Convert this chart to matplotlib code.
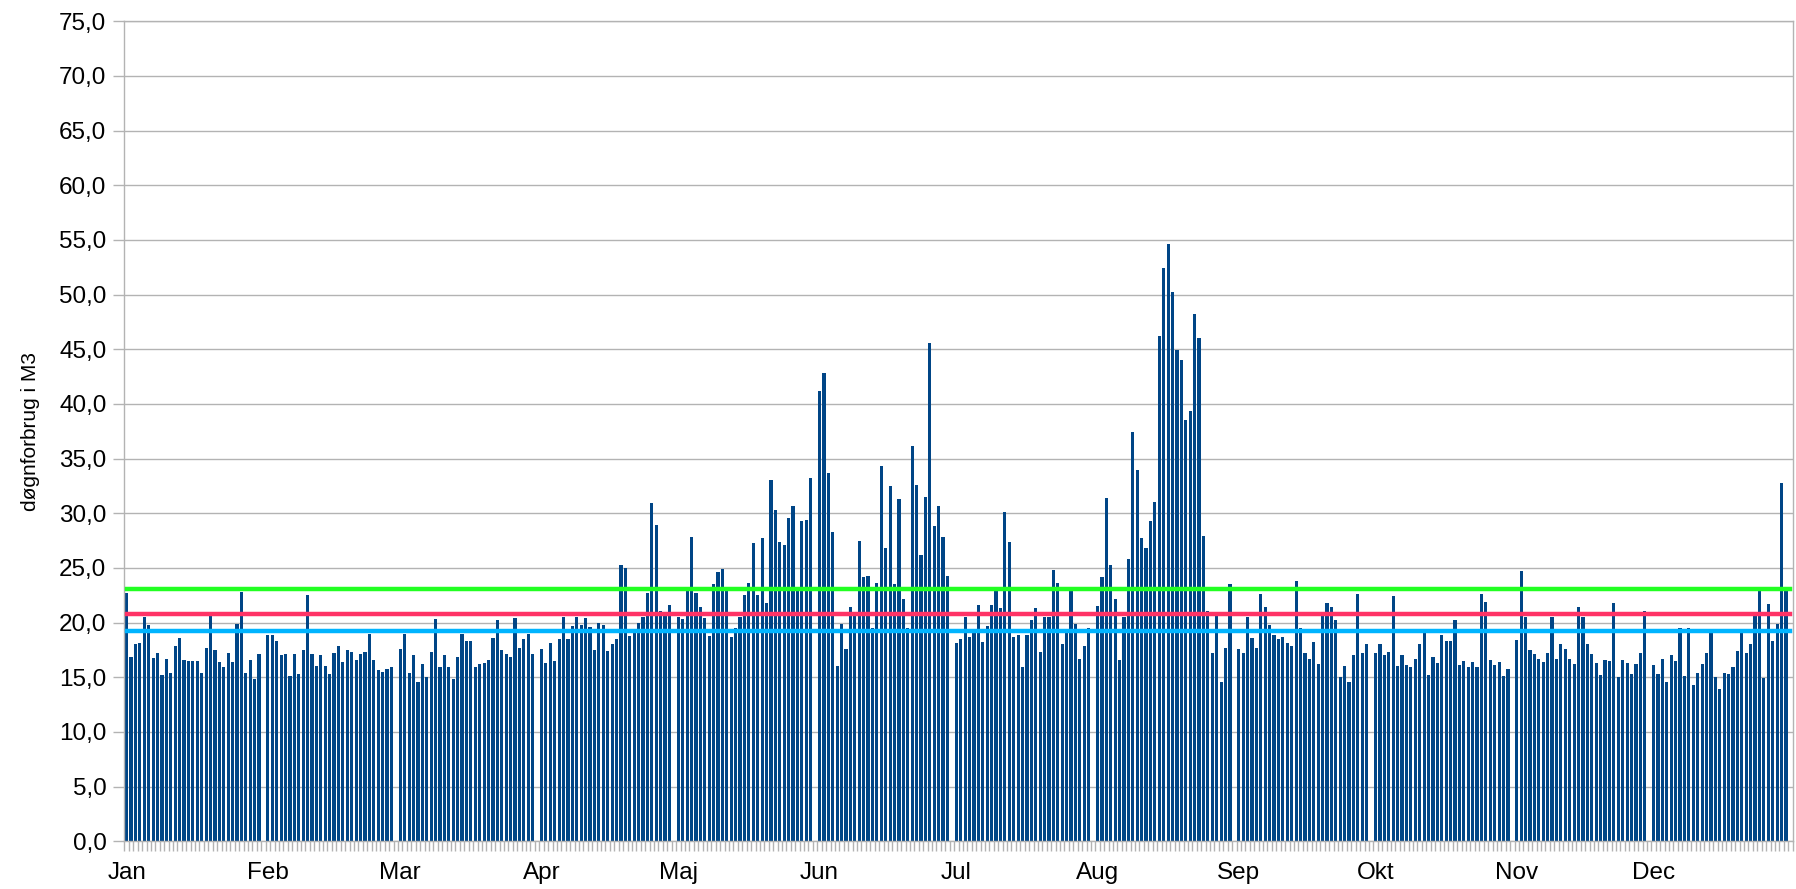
import numpy as np
import matplotlib
matplotlib.use('Agg')
import matplotlib.pyplot as plt

plt.rcParams['font.family'] = ['Liberation Sans', 'DejaVu Sans']

# daily consumption per month (m3), leap year
month_names = ['Jan', 'Feb', 'Mar', 'Apr', 'Maj', 'Jun', 'Jul', 'Aug', 'Sep', 'Okt', 'Nov', 'Dec']
jan = [22.7, 16.9, 18.0, 18.1, 20.5, 19.8, 16.8, 17.2, 15.2, 16.7, 15.4, 17.9, 18.6, 16.6, 16.5, 16.5,
       16.5, 15.4, 17.7, 21.0, 17.5, 16.4, 15.9, 17.2, 16.4, 19.9, 22.8, 15.4, 16.6, 14.8, 17.1]
feb = [18.9, 18.9, 18.3, 17.0, 17.1, 15.1, 17.1, 15.3, 17.5, 22.5, 17.1, 16.0, 17.0, 16.0, 15.3, 17.2,
       17.9, 16.4, 17.5, 17.3, 16.6, 17.1, 17.3, 19.0, 16.6, 15.7, 15.5, 15.8, 15.9]
mar = [17.6, 19.0, 15.4, 17.0, 14.6, 16.2, 15.0, 17.3, 20.3, 15.9, 17.0, 15.9, 14.8, 16.9, 19.0, 18.3,
       18.3, 15.9, 16.2, 16.3, 16.6, 18.6, 20.2, 17.5, 17.1, 16.9, 20.4, 17.7, 18.5, 19.0, 17.1]
apr = [17.6, 16.3, 18.1, 16.5, 18.5, 20.5, 18.5, 19.7, 20.5, 19.8, 20.4, 19.6, 17.5, 20.0, 19.8, 17.4,
       18.0, 18.5, 25.3, 25.0, 18.8, 19.1, 20.0, 20.5, 22.7, 30.9, 28.9, 21.1, 21.0, 21.6]
maj = [20.5, 20.3, 22.9, 27.8, 22.7, 21.4, 20.4, 18.8, 23.5, 24.6, 24.9, 22.9, 18.7, 19.5, 20.5, 22.5,
       23.6, 27.3, 22.5, 27.7, 21.8, 33.0, 30.3, 27.4, 27.1, 29.6, 30.7, 22.9, 29.3, 29.4, 33.2]
jun = [41.2, 42.8, 33.7, 28.3, 16.0, 19.9, 17.6, 21.4, 21.0, 27.5, 24.2, 24.3, 19.5, 23.6, 34.3, 26.8,
       32.5, 23.5, 31.3, 22.2, 19.5, 36.2, 32.6, 26.2, 31.5, 45.6, 28.8, 30.7, 27.8, 24.3]
jul = [18.1, 18.5, 20.5, 18.7, 19.1, 21.6, 18.2, 19.7, 21.6, 22.9, 21.3, 30.1, 27.4, 18.7, 18.9, 15.9,
       18.9, 20.2, 21.3, 17.3, 20.5, 20.5, 24.8, 23.6, 18.0, 19.1, 22.9, 19.9, 16.7, 17.9, 19.5]
aug = [21.5, 24.2, 31.4, 25.3, 22.2, 16.6, 20.5, 25.8, 37.4, 34.0, 27.7, 26.8, 29.3, 31.0, 46.2, 52.4,
       54.6, 50.2, 44.9, 44.0, 38.5, 39.4, 48.2, 46.0, 27.9, 21.1, 17.2, 20.8, 14.6, 17.7, 23.5]
sep = [17.6, 17.2, 20.5, 18.6, 17.7, 22.6, 21.4, 19.8, 18.9, 18.5, 18.7, 18.1, 17.9, 23.8, 19.5, 17.2,
       16.7, 18.2, 16.2, 20.6, 21.8, 21.4, 20.2, 15.0, 16.0, 14.6, 17.0, 22.6, 17.2, 18.0]
okt = [17.2, 18.0, 17.0, 17.3, 22.4, 16.0, 17.0, 16.1, 15.9, 16.7, 18.0, 19.2, 15.2, 16.9, 16.3, 18.9,
       18.3, 18.3, 20.2, 16.1, 16.5, 15.9, 16.4, 15.9, 22.6, 21.9, 16.6, 16.1, 16.4, 15.1, 15.8]
nov = [18.4, 24.7, 20.5, 17.5, 17.1, 16.7, 16.4, 17.2, 20.5, 16.7, 18.0, 17.6, 16.7, 16.2, 21.4, 20.5,
       18.0, 17.1, 16.3, 15.2, 16.6, 16.5, 21.8, 15.0, 16.6, 16.3, 15.3, 16.2, 17.2, 21.1]
dec = [16.1, 15.3, 16.7, 14.6, 17.0, 16.5, 19.5, 15.1, 19.5, 14.3, 15.4, 16.2, 17.2, 19.2, 15.0, 13.9,
       15.4, 15.3, 15.9, 17.4, 19.2, 17.2, 18.0, 21.0, 22.9, 14.9, 21.7, 18.3, 19.9, 32.8, 22.9]

# reference levels
level_green = 23.1
level_red = 20.75
level_blue = 19.25

months = [jan, feb, mar, apr, maj, jun, jul, aug, sep, okt, nov, dec]

# spreadsheet layout: one row per day, one empty row after each month
values = []
label_pos = []
for m in months:
    label_pos.append(len(values))
    values.extend(m)
    values.append(np.nan)
values = np.array(values)
x = np.arange(len(values))

fig = plt.figure(figsize=(17.96, 8.89), dpi=100)
ax = fig.add_axes([0.0693, 0.0537, 0.9288, 0.9223])

grid_col = '#b3b3b3'
ax.set_axisbelow(True)
ax.yaxis.grid(True, color=grid_col, linewidth=1.0)

ax.bar(x, np.nan_to_num(values), width=0.72, color='#004586', zorder=2)

ax.plot(x, np.full(len(x), level_green), color='#22ff22', linewidth=3.2, zorder=3)
ax.plot(x, np.full(len(x), level_red), color='#ff3366', linewidth=3.2, zorder=3)
ax.plot(x, np.full(len(x), level_blue), color='#00b4ff', linewidth=3.2, zorder=3)

ax.set_xlim(-0.5, len(x) - 0.5)
ax.set_ylim(0, 75)
ax.set_yticks(np.arange(0, 76, 5))
ax.set_yticklabels([f'{v:.1f}'.replace('.', ',') for v in np.arange(0, 76, 5)], fontsize=17.5)

ax.set_xticks(label_pos)
ax.set_xticklabels(month_names, fontsize=17.5)
ax.set_xticks(np.arange(-0.5, len(x)), minor=True)
ax.tick_params(axis='x', which='major', length=0, pad=15)
ax.tick_params(axis='x', which='minor', length=7, color=grid_col, width=1)
ax.tick_params(axis='y', length=8, color=grid_col, width=1, pad=5)

for s in ax.spines.values():
    s.set_color(grid_col)
    s.set_linewidth(1.0)

ax.set_ylabel('døgnforbrug i M3', fontsize=15, labelpad=14)

fig.savefig('out.png', dpi=100)
